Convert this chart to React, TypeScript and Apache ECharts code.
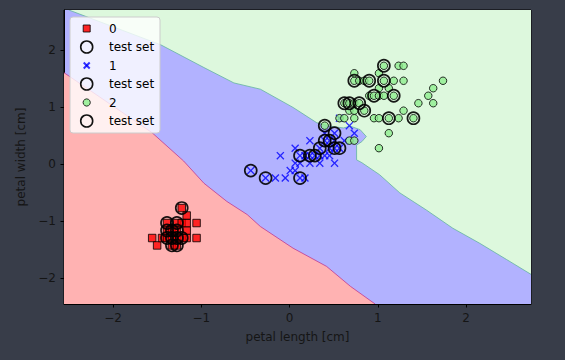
import React, { useEffect, useRef } from "react";
import * as echarts from "echarts";

// axis limits (standardized units)
const xRange = [-2.555, 2.736];
const yRange = [-2.45, 2.71];
const xTicks = [-2, -1, 0, 1, 2];
const yTicks = [-2, -1, 0, 1, 2];

// decision boundaries
const redBlueEdge = [
  [-2.555, 1.61], [-1.56, 0.56], [-1.2, 0.06], [-0.97, -0.33], [-0.71, -0.65],
  [-0.48, -0.88], [-0.33, -1.09], [0.04, -1.47], [0.42, -1.79], [0.69, -2.14], [0.97, -2.45],
];
const blueGreenEdge = [
  [-2.5, 2.71], [-1.46, 2.1], [-0.97, 1.7], [-0.63, 1.43], [-0.33, 1.32], [0.04, 1.0],
  [0.31, 0.73], [0.46, 0.67], [0.61, 0.64], [0.69, 0.67], [0.8, 0.61], [0.87, 0.49],
  [0.82, 0.4], [0.76, 0.34], [0.76, 0.08], [0.82, 0.03], [1.02, -0.18], [1.25, -0.5],
  [1.55, -0.8], [1.85, -1.12], [2.15, -1.38], [2.46, -1.67], [2.736, -1.93],
];

// class 0 (squares)
const class0 = [
  [-1.556, -1.292], [-1.5, -1.422], [-1.444, -1.292], [-1.388, -1.292], [-1.388, -1.16],
  [-1.388, -1.029], [-1.332, -1.422], [-1.332, -1.292], [-1.332, -1.16], [-1.276, -1.422],
  [-1.276, -1.292], [-1.276, -1.16], [-1.276, -1.029], [-1.221, -1.292], [-1.221, -1.029],
  [-1.221, -0.766], [-1.165, -1.292], [-1.165, -1.16], [-1.165, -1.029], [-1.165, -0.897],
  [-1.053, -1.292], [-1.053, -1.029],
];
const test0 = [
  [-1.221, -0.766], [-1.388, -1.029], [-1.276, -1.029], [-1.388, -1.16], [-1.332, -1.16],
  [-1.276, -1.16], [-1.388, -1.292], [-1.332, -1.292], [-1.276, -1.292], [-1.221, -1.292],
  [-1.332, -1.422], [-1.276, -1.422],
];

// class 1 (x)
const class1 = [
  [-0.439, -0.109], [-0.271, -0.24], [-0.16, -0.24], [-0.104, 0.154], [-0.048, -0.24],
  [0.008, -0.109], [0.064, -0.109], [0.064, 0.022], [0.064, 0.285], [0.119, -0.24],
  [0.119, 0.022], [0.119, 0.154], [0.175, -0.24], [0.175, 0.154], [0.231, 0.022],
  [0.231, 0.154], [0.231, 0.417], [0.287, 0.154], [0.343, 0.022], [0.343, 0.154],
  [0.343, 0.285], [0.399, 0.154], [0.399, 0.417], [0.399, 0.548], [0.454, 0.154],
  [0.454, 0.285], [0.454, 0.417], [0.51, 0.022], [0.51, 0.285], [0.51, 0.417],
  [0.51, 0.548], [0.566, 0.285], [0.566, 0.811], [0.621, 0.417], [0.678, 0.68], [0.734, 0.548],
];
const test1 = [
  [-0.439, -0.109], [-0.271, -0.24], [0.119, -0.24], [0.119, 0.154], [0.231, 0.154],
  [0.287, 0.154], [0.343, 0.285], [0.399, 0.417], [0.454, 0.417], [0.51, 0.548],
  [0.51, 0.285], [0.566, 0.285],
];

// class 2 (circles)
const class2 = [
  [0.399, 0.68], [0.566, 0.811], [0.621, 0.811], [0.621, 1.074], [0.678, 0.417],
  [0.678, 0.943], [0.678, 1.074], [0.734, 0.417], [0.734, 0.811], [0.734, 0.943],
  [0.734, 1.074], [0.734, 1.468], [0.734, 1.6], [0.79, 1.074], [0.79, 1.468],
  [0.847, 0.943], [0.847, 1.468], [0.903, 1.205], [0.903, 1.468], [0.957, 0.811],
  [0.957, 1.205], [1.013, 0.285], [1.013, 0.811], [1.013, 1.205], [1.013, 1.337],
  [1.013, 1.6], [1.069, 1.205], [1.069, 1.468], [1.069, 1.731], [1.125, 0.548],
  [1.125, 0.811], [1.125, 1.337], [1.181, 1.205], [1.181, 1.468], [1.236, 0.811],
  [1.236, 1.731], [1.292, 0.943], [1.292, 1.468], [1.292, 1.731], [1.404, 0.811],
  [1.46, 1.074], [1.572, 1.205], [1.628, 1.074], [1.628, 1.337], [1.739, 1.468],
];
const test2 = [
  [1.069, 1.731], [0.734, 1.468], [0.903, 1.468], [1.069, 1.468], [0.957, 1.205],
  [1.181, 1.205], [0.621, 1.074], [0.678, 1.074], [0.79, 1.074], [0.847, 0.943],
  [1.125, 0.811], [1.404, 0.811], [0.399, 0.68],
];

const legendLabels = ["0", "test set", "1", "test set", "2", "test set"];

const FONT = "DejaVu Sans";
const TEXT = "#151515";
const X_PATH =
  "path://M0,1.2L1.2,0L5,3.8L8.8,0L10,1.2L6.2,5L10,8.8L8.8,10L5,6.2L1.2,10L0,8.8L3.8,5Z";

function polygonSeries(points: number[][], fill: string, z: number) {
  return {
    type: "custom",
    silent: true,
    z,
    clip: true,
    data: [points[0]],
    renderItem: (_p: any, api: any) => ({
      type: "polygon",
      shape: { points: points.map((pt) => api.coord(pt)) },
      style: { fill, stroke: null },
    }),
  };
}

function edgeSeries(points: number[][], stroke: string) {
  return {
    type: "custom",
    silent: true,
    z: 2,
    clip: true,
    data: [points[0]],
    renderItem: (_p: any, api: any) => ({
      type: "polyline",
      shape: { points: points.map((pt) => api.coord(pt)) },
      style: { stroke, lineWidth: 1, fill: null },
    }),
  };
}

function testSeries(name: string, data: number[][]) {
  return {
    type: "scatter",
    name,
    data,
    z: 5,
    symbol: "circle",
    symbolSize: 12,
    itemStyle: { color: "rgba(0,0,0,0)", borderColor: "#000", borderWidth: 1.7, opacity: 0.9 },
    silent: true,
  };
}

const fmt = (v: number) => (v < 0 ? "\u2212" + Math.abs(v) : String(v));

export default function App() {
  const ref = useRef<HTMLDivElement>(null);
  useEffect(() => {
    if (!ref.current) return;
    const chart = echarts.init(ref.current, null, { renderer: "svg" });

    const blueRect = [
      [xRange[0], yRange[0]], [xRange[1], yRange[0]], [xRange[1], yRange[1]], [xRange[0], yRange[1]],
    ];
    const redPoly = [...redBlueEdge, [xRange[0], yRange[0]]];
    const greenPoly = [...blueGreenEdge, [xRange[1], yRange[1]]];

    const rowY = (i: number) => 28.5 + 18.5 * i;
    const symX = 86.7;
    const legendGraphics: any[] = [
      {
        type: "rect",
        shape: { x: 70, y: 17, width: 90, height: 116, r: 3 },
        style: { fill: "rgba(255,255,255,0.8)", stroke: "#cccccc", lineWidth: 1 },
        z: 100,
      },
    ];
    legendLabels.forEach((label, i) => {
      const y = rowY(i);
      if (i === 0) {
        legendGraphics.push({
          type: "rect",
          shape: { x: symX - 3.5, y: y - 3.5, width: 7, height: 7 },
          style: { fill: "rgba(255,0,0,0.85)", stroke: "rgba(0,0,0,0.8)", lineWidth: 1 },
          z: 101,
        });
      } else if (i === 2) {
        legendGraphics.push({
          type: "line",
          shape: { x1: symX - 3, y1: y - 3, x2: symX + 3, y2: y + 3 },
          style: { stroke: "rgba(0,0,255,0.8)", lineWidth: 2 },
          z: 101,
        });
        legendGraphics.push({
          type: "line",
          shape: { x1: symX - 3, y1: y + 3, x2: symX + 3, y2: y - 3 },
          style: { stroke: "rgba(0,0,255,0.8)", lineWidth: 2 },
          z: 101,
        });
      } else if (i === 4) {
        legendGraphics.push({
          type: "circle",
          shape: { cx: symX, cy: y, r: 3.6 },
          style: { fill: "rgba(144,238,144,0.85)", stroke: "rgba(0,0,0,0.8)", lineWidth: 1 },
          z: 101,
        });
      } else {
        legendGraphics.push({
          type: "circle",
          shape: { cx: symX, cy: y, r: 6 },
          style: { fill: "none", stroke: "#111", lineWidth: 1.6 },
          z: 101,
        });
      }
      legendGraphics.push({
        type: "text",
        x: 109,
        y,
        style: {
          text: label,
          font: `12px "${FONT}"`,
          fill: "#000",
          textAlign: "left",
          textVerticalAlign: "middle",
        },
        z: 101,
      });
    });

    const axisCommon = {
      type: "value",
      splitLine: { show: false },
      axisLine: { show: true, onZero: false, lineStyle: { color: "#000", width: 1 } },
    };

    chart.setOption({
      animation: false,
      backgroundColor: "#383d49",
      grid: {
        left: 64,
        right: 34,
        top: 10,
        bottom: 56,
        show: true,
        borderColor: "#000",
        borderWidth: 1,
        backgroundColor: "transparent",
      },
      xAxis: {
        ...axisCommon,
        min: xRange[0],
        max: xRange[1],
        name: "petal length [cm]",
        nameLocation: "middle",
        nameGap: 27,
        nameTextStyle: { color: TEXT, fontSize: 12, fontFamily: FONT },
        axisTick: { show: true, length: 3.5, customValues: xTicks, lineStyle: { color: "#000" } },
        axisLabel: {
          customValues: xTicks,
          formatter: fmt,
          color: TEXT,
          fontSize: 12,
          fontFamily: FONT,
          margin: 8,
        },
      },
      yAxis: {
        ...axisCommon,
        min: yRange[0],
        max: yRange[1],
        name: "petal width [cm]",
        nameLocation: "middle",
        nameGap: 36,
        nameTextStyle: { color: TEXT, fontSize: 12, fontFamily: FONT },
        axisTick: { show: true, length: 3.5, customValues: yTicks, lineStyle: { color: "#000" } },
        axisLabel: {
          customValues: yTicks,
          formatter: fmt,
          color: TEXT,
          fontSize: 12,
          fontFamily: FONT,
          margin: 8,
        },
      },
      graphic: legendGraphics,
      series: [
        polygonSeries(blueRect, "#b2b2ff", 0),
        polygonSeries(redPoly, "#ffb2b2", 1),
        polygonSeries(greenPoly, "#ddf8dd", 1),
        edgeSeries(redBlueEdge, "rgba(190,50,140,0.75)"),
        edgeSeries(blueGreenEdge, "rgba(100,180,160,0.8)"),
        {
          type: "scatter",
          name: "0",
          data: class0,
          z: 3,
          symbol: "rect",
          symbolSize: 7.5,
          itemStyle: { color: "#ff0000", borderColor: "#000", borderWidth: 1, opacity: 0.8 },
          silent: true,
        },
        testSeries("test set 0", test0),
        {
          type: "scatter",
          name: "1",
          data: class1,
          z: 3,
          symbol: X_PATH,
          symbolSize: 8,
          itemStyle: { color: "#0000ff", opacity: 0.8 },
          silent: true,
        },
        testSeries("test set 1", test1),
        {
          type: "scatter",
          name: "2",
          data: class2,
          z: 3,
          symbol: "circle",
          symbolSize: 7.5,
          itemStyle: { color: "#90ee90", borderColor: "#000", borderWidth: 1, opacity: 0.8 },
          silent: true,
        },
        testSeries("test set 2", test2),
      ],
    });
    return () => chart.dispose();
  }, []);

  return (
    <div
      ref={ref}
      style={{ position: "fixed", left: 0, top: 0, width: 565, height: 360, background: "#383d49" }}
    />
  );
}
